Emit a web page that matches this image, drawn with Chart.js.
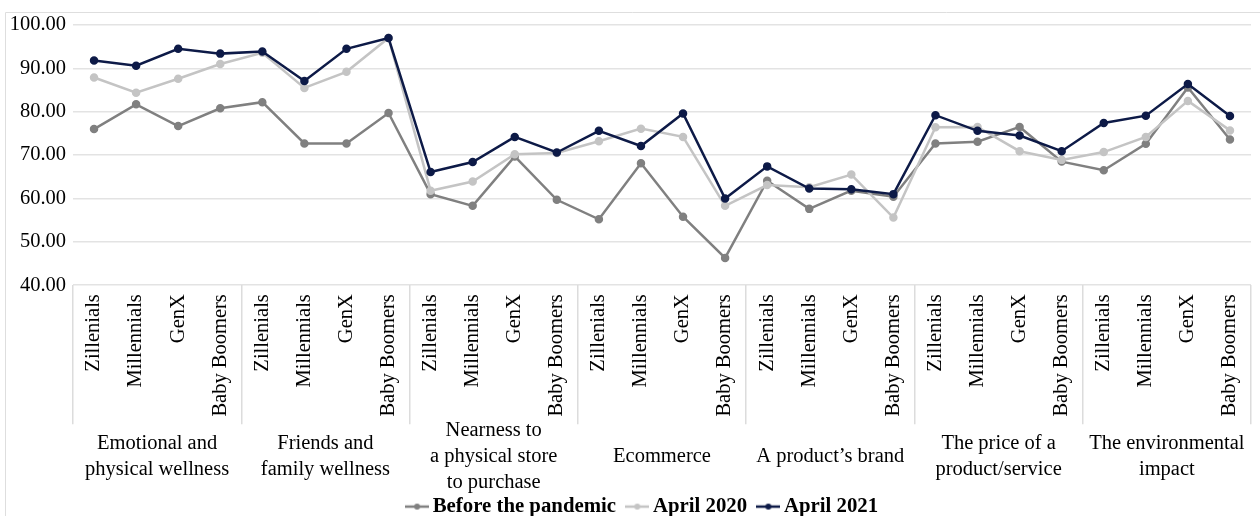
<!DOCTYPE html>
<html>
<head>
<meta charset="utf-8">
<title>Importance of factors by generation</title>
<script src="https://cdn.jsdelivr.net/npm/chart.js@4/dist/chart.umd.min.js"></script>
<style>
    html, body { margin: 0; padding: 0; background: #ffffff; }
    #wrap { width: 1260px; height: 516px; }
</style>
</head>
<body>
<div id="wrap"><canvas id="factorChart" width="1260" height="516"></canvas></div>
<script>
const generations = ['Zillenials', 'Millennials', 'GenX', 'Baby Boomers'];

const factorGroups = [
    ['Emotional and', 'physical wellness'],
    ['Friends and', 'family wellness'],
    ['Nearness to', 'a physical store', 'to purchase'],
    'Ecommerce',
    'A product\u2019s brand',
    ['The price of a', 'product/service'],
    ['The environmental', 'impact']
];

const beforePandemic = [76.0, 81.7, 76.7, 80.8, 82.2, 72.7, 72.7, 79.7, 61.0, 58.3, 69.7, 59.7, 55.2, 68.1, 55.8, 46.3, 64.1, 57.6, 61.8, 60.4, 72.7, 73.1, 76.5, 68.5, 66.5, 72.6, 85.6, 73.6];
const april2020 = [87.9, 84.4, 87.6, 91.0, 93.6, 85.5, 89.2, 97.0, 61.8, 63.9, 70.2, 70.5, 73.2, 76.1, 74.2, 58.3, 63.1, 62.6, 65.5, 55.6, 76.4, 76.5, 70.9, 68.9, 70.7, 74.2, 82.5, 75.7];
const april2021 = [91.8, 90.6, 94.5, 93.4, 93.9, 87.1, 94.5, 97.0, 66.1, 68.4, 74.2, 70.6, 75.6, 72.1, 79.6, 60.0, 67.4, 62.3, 62.1, 61.0, 79.2, 75.6, 74.5, 70.9, 77.4, 79.1, 86.4, 79.0];

const seriesNames = ['Before the pandemic', 'April 2020', 'April 2021'];
const seriesColors = ['#808080', '#c4c4c4', '#0d1a47'];

// one x label per point: the four generations repeated for every factor
const xLabels = [];
factorGroups.forEach(() => generations.forEach(g => xLabels.push(g)));

const serif = "'Liberation Serif', 'Times New Roman', serif";

// small "line with dot" marker for the legend
function legendMarker(color) {
    const c = document.createElement('canvas');
    c.width = 24;
    c.height = 8;
    const g = c.getContext('2d');
    g.strokeStyle = color;
    g.lineWidth = 2.5;
    g.beginPath();
    g.moveTo(0, 4);
    g.lineTo(24, 4);
    g.stroke();
    g.fillStyle = color;
    g.beginPath();
    g.arc(12, 4, 3, 0, Math.PI * 2);
    g.fill();
    return c;
}

const framePlugin = {
    id: 'frame',
    beforeDraw(chart) {
        const ctx = chart.ctx;
        ctx.save();
        ctx.strokeStyle = '#dedede';
        ctx.lineWidth = 1;
        ctx.beginPath();
        ctx.moveTo(5.5, 516);
        ctx.lineTo(5.5, 12.5);
        ctx.lineTo(1260, 12.5);
        ctx.stroke();
        ctx.restore();
    }
};

function makeDataset(i, values, order) {
    return {
        label: seriesNames[i],
        data: values,
        borderColor: seriesColors[i],
        backgroundColor: seriesColors[i],
        pointBackgroundColor: seriesColors[i],
        pointBorderColor: seriesColors[i],
        borderWidth: 2.5,
        pointRadius: 3,
        pointHoverRadius: 3,
        tension: 0,
        order: order
    };
}

const separatorColor = c => (c.index === undefined || c.index % 4 === 0) ? '#dcdcdc' : 'rgba(0,0,0,0)';

const ctx = document.getElementById('factorChart').getContext('2d');
new Chart(ctx, {
    type: 'line',
    data: {
        labels: xLabels,
        datasets: [
            makeDataset(0, beforePandemic, 3),
            makeDataset(1, april2020, 2),
            makeDataset(2, april2021, 1)
        ]
    },
    options: {
        responsive: false,
        animation: false,
        layout: {
            padding: { top: 25, left: 0, right: -30, bottom: -11 }
        },
        plugins: {
            tooltip: { enabled: false },
            legend: {
                position: 'bottom',
                labels: {
                    usePointStyle: true,
                    pointStyleWidth: 10.5,
                    padding: 16,
                    color: '#000000',
                    font: { family: serif, size: 20.8, weight: 'bold' },
                    generateLabels(chart) {
                        const items = Chart.defaults.plugins.legend.labels.generateLabels(chart);
                        items.forEach(item => {
                            item.pointStyle = legendMarker(seriesColors[item.datasetIndex]);
                        });
                        return items.sort((a, b) => a.datasetIndex - b.datasetIndex);
                    }
                }
            }
        },
        scales: {
            y: {
                min: 40,
                max: 100,
                ticks: {
                    stepSize: 10,
                    padding: 7,
                    color: '#000000',
                    font: { family: serif, size: 20.5 },
                    callback: v => Number(v).toFixed(2)
                },
                grid: { color: '#e3e3e3', lineWidth: 1.5, drawTicks: false },
                border: { display: false },
                afterFit(scale) { scale.width = 73; }
            },
            // empty spacer on the right so the legend sits where it does in the original
            yRight: {
                type: 'linear',
                position: 'right',
                ticks: { display: false },
                grid: { display: false },
                border: { display: false },
                afterFit(scale) { scale.width = 39; }
            },
            x: {
                offset: true,
                ticks: {
                    autoSkip: false,
                    maxRotation: 90,
                    minRotation: 90,
                    padding: -130,
                    color: '#000000',
                    font: { family: serif, size: 20.5 }
                },
                grid: {
                    offset: true,
                    drawOnChartArea: false,
                    tickLength: 139,
                    lineWidth: 1.5,
                    color: separatorColor,
                    tickColor: separatorColor
                },
                border: { display: false },
                afterFit(scale) { scale.height = 139; }
            },
            x2: {
                type: 'category',
                position: 'bottom',
                labels: factorGroups,
                offset: true,
                ticks: {
                    autoSkip: false,
                    maxRotation: 0,
                    minRotation: 0,
                    padding: -2,
                    crossAlign: 'center',
                    color: '#000000',
                    font: { family: serif, size: 20.5, lineHeight: 1.27 }
                },
                grid: { display: false },
                border: { display: false },
                afterFit(scale) {
                    scale.height = 56;
                    // let the three-line label spill out of the box instead of being clipped
                    scale._computeLabelArea = () => undefined;
                }
            }
        }
    },
    plugins: [framePlugin]
});
</script>
</body>
</html>
